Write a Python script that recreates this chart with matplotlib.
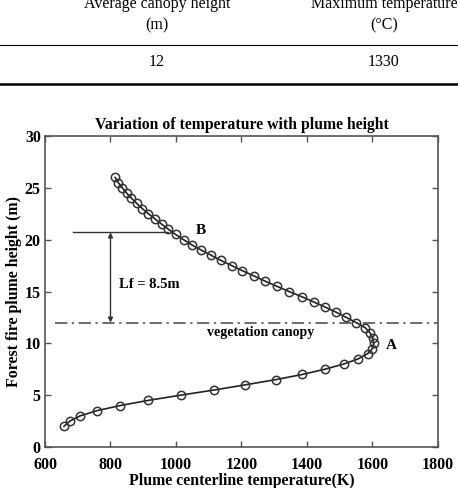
import matplotlib.pyplot as plt

# plume profile
height = [2.0, 2.5, 3.0, 3.5, 4.0, 4.5, 5.0, 5.5, 6.0, 6.5, 7.0, 7.5, 8.0, 8.5,
          9.0, 9.5, 10.0, 10.5, 11.0, 11.5, 12.0, 12.5, 13.0, 13.5, 14.0, 14.5,
          15.0, 15.5, 16.0, 16.5, 17.0, 17.5, 18.0, 18.5, 19.0, 19.5, 20.0,
          20.5, 21.0, 21.5, 22.0, 22.5, 23.0, 23.5, 24.0, 24.5, 25.0, 25.5, 26.0]
temp = [658, 676, 707, 758, 830, 916, 1014, 1117, 1212, 1305, 1386, 1454, 1512,
        1556, 1585, 1600, 1604, 1601, 1593, 1578, 1550, 1520, 1489, 1455, 1420,
        1384, 1345, 1308, 1272, 1238, 1203, 1170, 1137, 1107, 1077, 1048, 1023,
        999, 977, 956, 936, 916, 897, 880, 864, 849, 836, 824, 814]

canopy_height = 12.0
flame_top = 20.7
lf_label = 'Lf = 8.5m'

table_head = ['Average canopy height', 'Maximum temperature']
table_unit = ['(m)', '(°C)']
table_vals = ['12', '1330']

xticks = [600, 800, 1000, 1200, 1400, 1600, 1800]
yticks = [0, 5, 10, 15, 20, 25, 30]

serif = 'Liberation Serif'

fig = plt.figure(figsize=(4.58, 4.88), dpi=100)

# piece of the table above the figure
for xc, h, u, v in zip([157, 384], table_head, table_unit, table_vals):
    fig.text(xc / 458, 1 - 4 / 488, h, ha='center', va='center', family=serif, fontsize=11.5)
    fig.text(xc / 458, 1 - 25 / 488, u, ha='center', va='center', family=serif, fontsize=11.5)
    fig.text(xc / 458, 1 - 62 / 488, v, ha='center', va='center', family=serif, fontsize=11.5)
fig.add_artist(plt.Line2D([0, 1], [1 - 44.5 / 488] * 2, color='black', lw=0.8))
fig.add_artist(plt.Line2D([0, 1], [1 - 84 / 488] * 2, color='black', lw=1.8))

ax = fig.add_axes([45 / 458, 41 / 488, 393 / 458, 311 / 488])
ax.plot(temp, height, '-', color='#222222', lw=1.2, marker='o', ms=6,
        mfc='none', mec='#333333', mew=1.1)

ax.axhline(canopy_height, xmin=(631 - 600) / 1200, xmax=1, color='#444444', lw=1.1,
           ls=(0, (8, 3, 1.5, 3)))
ax.plot([685, 976], [flame_top, flame_top], color='#333333', lw=1.0)
ax.annotate('', xy=(800, canopy_height), xytext=(800, flame_top),
            arrowprops=dict(arrowstyle='<|-|>', color='#333333', lw=1.0,
                            mutation_scale=7, shrinkA=0, shrinkB=0))
ax.text(826, 15.7, lf_label, family=serif, fontsize=10.5, fontweight='bold', va='center')
ax.text(1060, 20.9, 'B', family=serif, fontsize=11, fontweight='bold', va='center')
ax.text(1640, 9.8, 'A', family=serif, fontsize=11, fontweight='bold', va='center')
ax.text(1257, 11.0, 'vegetation canopy', family=serif, fontsize=10, fontweight='bold',
        ha='center', va='center')

ax.set_xlim(600, 1800)
ax.set_ylim(0, 30)
ax.set_xticks(xticks)
ax.set_yticks(yticks)
ax.tick_params(direction='in', top=True, right=True, length=4, width=1, color='#555555')
ax.tick_params(axis='x', pad=7)
ax.tick_params(axis='y', pad=3)
for lab in ax.get_xticklabels() + ax.get_yticklabels():
    lab.set_family(serif)
    lab.set_fontweight('bold')
    lab.set_fontsize(11.5)
for s in ax.spines.values():
    s.set_color('#555555')
    s.set_linewidth(1.2)

ax.set_title('Variation of temperature with plume height', family=serif,
             fontweight='bold', fontsize=11.3, pad=5)
ax.set_xlabel('Plume centerline temperature(K)', family=serif, fontweight='bold',
              fontsize=11.4, labelpad=0.5)
ax.set_ylabel('Forest fire plume height (m)', family=serif, fontweight='bold',
              fontsize=11.4, labelpad=2)

fig.savefig('out.png', dpi=100)
